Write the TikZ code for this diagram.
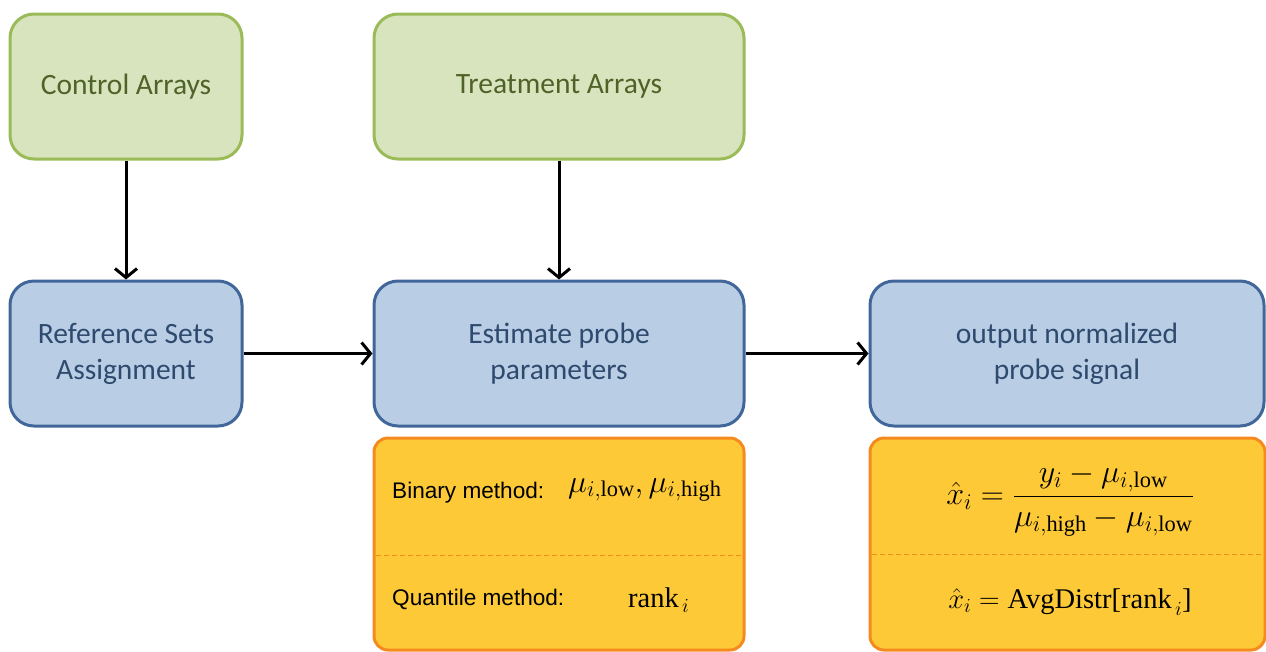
\RequirePackage{fix-cm}
\documentclass[tikz,border=0pt]{standalone}
\usepackage{amsmath}
\usepackage{fontspec}
\setmainfont{Liberation Serif}
\newfontfamily\calib{Carlito}
\newfontfamily\arialf{Liberation Sans}
\usetikzlibrary{arrows.meta}
\definecolor{gfill}{HTML}{D7E4BD}
\definecolor{gdraw}{HTML}{9BBB59}
\definecolor{gtext}{HTML}{4F6228}
\definecolor{bfill}{HTML}{B9CDE5}
\definecolor{bdraw}{HTML}{41679A}
\definecolor{btext}{HTML}{2E4A6E}
\definecolor{ofill}{HTML}{FDC936}
\definecolor{odraw}{HTML}{F58A1F}
\tikzset{
  box/.style={rounded corners=24pt, line width=3pt, inner sep=0pt, align=center},
  greenbox/.style={box, fill=gfill, draw=gdraw, text=gtext, font=\calib\fontsize{29.5}{36}\selectfont},
  bluebox/.style={box, fill=bfill, draw=bdraw, text=btext, font=\calib\fontsize{29.5}{36}\selectfont},
  orangebox/.style={rounded corners=14pt, line width=3pt, fill=ofill, draw=odraw},
  flow/.style={line width=3pt, -{Straight Barb[length=9pt,width=22pt,line width=3pt]}},
  lbl/.style={inner sep=0pt, font=\arialf\fontsize{22.6}{26}\selectfont},
  mth/.style={inner sep=0pt, font=\fontsize{28.5}{32}\selectfont},
  bigmth/.style={inner sep=0pt, font=\fontsize{32}{36}\selectfont},
  divider/.style={draw=odraw, line width=1pt, dashed, dash pattern=on 5pt off 3pt}
}
\newcommand{\tr}[1]{\textnormal{#1}}
\begin{document}
\begin{tikzpicture}[x=1pt,y=-1pt]
\useasboundingbox (0,0) rectangle (1266,651);
% top row
\node[greenbox, minimum width=232pt, minimum height=145pt] (ctrl) at (126,86.5) {Control Arrays};
\node[greenbox, minimum width=370pt, minimum height=145pt] (treat) at (559,86.5) {Treatment Arrays};
% middle row
\node[bluebox, minimum width=232pt, minimum height=145pt] (ref) at (126,353.5) {Reference Sets\\Assignment};
\node[bluebox, minimum width=370pt, minimum height=145pt] (est) at (559,353.5) {Estimate probe\\parameters};
\node[bluebox, minimum width=394pt, minimum height=145pt] (out) at (1067,353.5) {output normalized\\probe signal};
% bottom orange boxes
\draw[orangebox] (374,438) rectangle (744,650);
\draw[orangebox] (870,438) rectangle (1265,650);
\coordinate (d1a) at (376,555);
\coordinate (d1b) at (742,555);
\coordinate (d2a) at (872,554);
\coordinate (d2b) at (1263,554);
\draw[divider] (d1a) -- (d1b);
\draw[divider] (d2a) -- (d2b);
\node[lbl, anchor=west] (bin) at (392,493) {Binary method:};
\node[bigmth, anchor=west] (binm) at (568,490) {$\mu_{i,\tr{low}},\mu_{i,\tr{high}}$};
\node[mth, anchor=west] (quam) at (628,600) {$\tr{rank}_{\,i}$};
\node[lbl, anchor=west] (qua) at (392,599) {Quantile method:};
\node[bigmth] (frac) at (1070,500) {$\hat{x}_i=\dfrac{y_i-\mu_{i,\tr{low}}}{\mu_{i,\tr{high}}-\mu_{i,\tr{low}}}$};
\node[mth] (avg) at (1070,602) {$\hat{x}_i=\tr{AvgDistr[rank}_{\,i}\tr{]}$};
% connectors
\draw[flow] (ctrl) -- (ref);
\draw[flow] (treat) -- (est);
\draw[flow] (ref) -- (est);
\draw[flow] (est) -- (out);
\end{tikzpicture}
\end{document}
